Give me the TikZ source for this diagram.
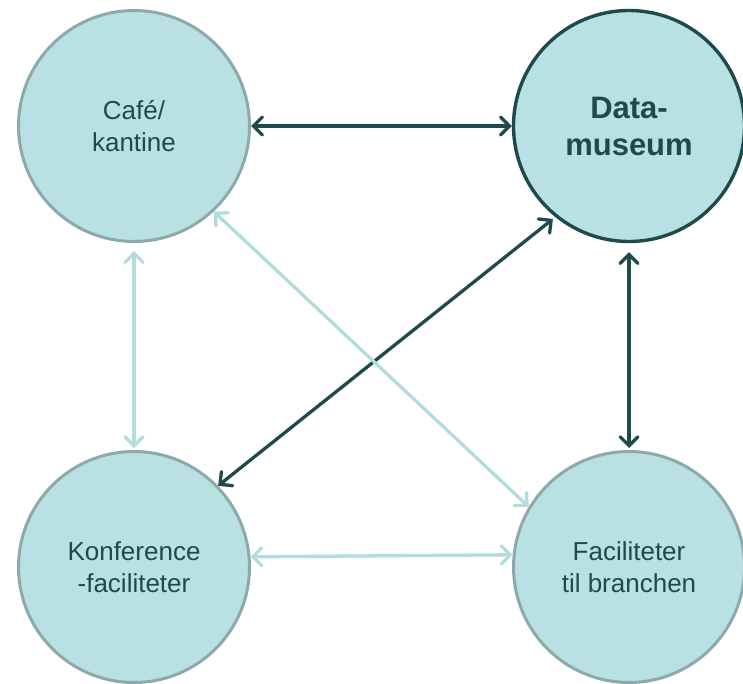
\documentclass[tikz,border=0pt]{standalone}
\usepackage{fontspec}
\setmainfont{Liberation Sans}
\usetikzlibrary{arrows.meta}
\definecolor{fillc}{HTML}{B9E0E3}
\definecolor{borderc}{HTML}{8EA9AB}
\definecolor{darkc}{HTML}{1F4A4C}
\definecolor{lightc}{HTML}{B3DCDF}
\tikzset{
  bubble/.style={circle, fill=fillc, draw=borderc, line width=3pt, minimum size=231pt, inner sep=0pt, align=center, text=darkc, font=\fontsize{26}{32}\selectfont},
  keybubble/.style={bubble, draw=darkc, line width=3.4pt, font=\fontsize{31}{37}\selectfont\bfseries},
  darklink/.style={draw=darkc, line width=3.3pt, {Straight Barb[length=9pt,width=18pt,line cap=round]}-{Straight Barb[length=9pt,width=18pt,line cap=round]}},
  lightlink/.style={draw=lightc, line width=3.3pt, {Straight Barb[length=9pt,width=18pt,line cap=round]}-{Straight Barb[length=9pt,width=18pt,line cap=round]}}
}
\begin{document}
\begin{tikzpicture}[x=1pt,y=-1pt]
\useasboundingbox (0,0) rectangle (743,683);
\node[bubble] (cafe) at (134,126) {Café/\\kantine};
\node[keybubble] (data) at (629,126) {Data-\\museum};
\node[bubble] (konf) at (134,567) {Konference\\-faciliteter};
\node[bubble] (fac) at (629,567) {Faciliteter\\til branchen};
\draw[darklink] (cafe.east) -- (data.west);
\draw[darklink, shorten <=9pt, shorten >=2pt] (data.south) -- (fac.north);
\draw[darklink, shorten <=3pt] (data.231) -- (konf.44.6);
\draw[lightlink, shorten <=8pt, shorten >=2pt] (cafe.south) -- (konf.north);
\draw[lightlink] (cafe.-47.8) -- (fac.149.6);
\draw[lightlink] (konf.5.4) -- (fac.174.6);
\end{tikzpicture}
\end{document}
